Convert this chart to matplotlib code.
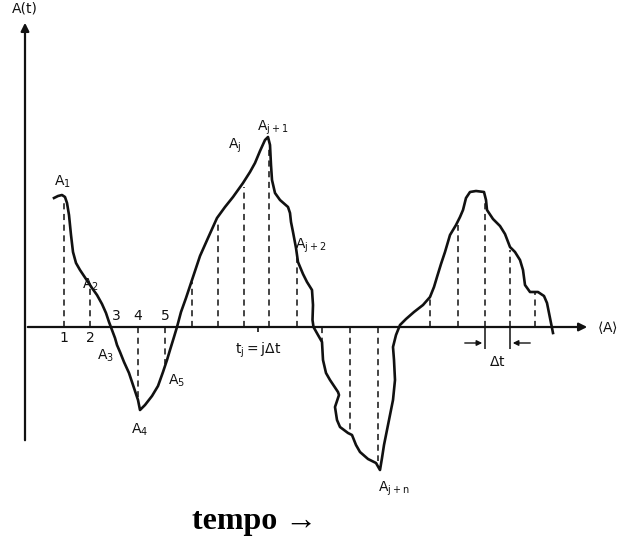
import numpy as np
import matplotlib
matplotlib.use('Agg')
import matplotlib.pyplot as plt

# signal trace: time (from vertical axis) and amplitude (above horizontal axis)
curve_t = [29, 33, 37, 40, 42, 44, 46, 48, 51, 55, 61, 67, 72, 77, 81, 84, 87, 90, 92, 95,
           99, 104, 109, 113, 115, 120, 127, 133, 138, 142, 145, 149, 152, 156, 161, 167, 175,
           183, 192, 200, 208, 218, 225, 230, 235, 240, 243, 245, 246, 247, 250, 255, 263, 265,
           266, 268, 271, 273, 278, 282, 287, 288, 287.5, 288.5, 293, 297, 298, 301, 305, 313,
           314, 310, 312, 315, 323, 327, 331, 335, 343, 351, 355, 357, 359, 362, 365, 368, 370,
           369, 368, 371, 375, 381, 389, 398, 405, 409, 412, 416, 420, 425, 431, 435, 438, 441,
           445, 451, 459, 461, 462, 468, 475, 480, 485, 490, 495, 498, 500, 505, 513, 519, 522,
           525, 528]
curve_a = [129, 131, 132, 130, 124, 112, 92, 75, 64, 57, 48, 39, 32, 23, 14, 5, -3, -11, -18, -25,
           -35, -46, -61, -73, -83, -78, -69, -59, -45, -33, -23, -10, 0, 15, 29, 47, 71,
           89, 109, 120, 130, 144, 155, 164, 176, 187, 190, 182, 162, 147, 134, 127, 120, 114,
           105, 95, 79, 65, 53, 45, 37, 22, 7, 0, -8, -15, -33, -46, -53, -65,
           -68, -80, -93, -100, -106, -108, -118, -125, -132, -136, -143, -131, -118, -103, -88, -73, -53,
           -33, -20, -8, 2, 8, 15, 22, 30, 40, 50, 63, 75, 92, 102, 110, 117, 129,
           135, 136, 135, 127, 117, 108, 101, 93, 80, 75, 67, 57, 42, 35, 35, 31, 24,
           9, -6]

# sampling instants (dashed ordinates)
sample_t = [39, 65, 113, 140, 167, 193, 219, 244, 272, 297, 325, 353, 405, 433, 460, 485, 510]

# numbered samples: label, time, above axis?
num_labels = ['1', '2', '3', '4', '5']
num_t = [39, 65, 91, 113, 140]
num_above = [False, False, True, True, True]

# named samples: label, time, amplitude of label anchor
name_labels = ['$A_1$', '$A_2$', '$A_3$', '$A_4$', '$A_5$',
               '$A_j$', '$A_{j+1}$', '$A_{j+2}$', '$A_{j+n}$']
name_t = [29, 57, 72, 106, 143, 203, 232, 270, 353]
name_a = [141, 38, -33, -107, -58, 178, 196, 78, -165]

fig = plt.figure(figsize=(6.34, 5.44), dpi=100)
ax = fig.add_axes([0, 0, 1, 1])
ax.set_xlim(-25, 609)
ax.set_ylim(-217, 327)
ax.axis('off')
plt.rcParams['mathtext.default'] = 'regular'

ink = '#111111'
lab = dict(fontsize=10, color=ink, family='DejaVu Sans')

# axes with arrows
ax.annotate('', xy=(0, 307), xytext=(0, -116),
            arrowprops=dict(arrowstyle='-|>', color=ink, lw=1.6, mutation_scale=12))
ax.annotate('', xy=(565, 0), xytext=(0, 0),
            arrowprops=dict(arrowstyle='-|>', color=ink, lw=1.6, mutation_scale=12))

# dashed ordinates from the axis to the curve
tops = np.interp(sample_t, curve_t, curve_a)
ax.vlines(sample_t, 0, tops * 0.96, colors=ink, linestyles=(0, (4, 3)), lw=1.1)

# the signal
ax.plot(curve_t, curve_a, color=ink, lw=1.9, solid_joinstyle='round')

for s, t, up in zip(num_labels, num_t, num_above):
    if up:
        ax.text(t, 4, s, ha='center', va='bottom', **lab)
    else:
        ax.text(t, -4, s, ha='center', va='top', **lab)

for s, t, a in zip(name_labels, name_t, name_a):
    ax.text(t, a, s, **lab)

ax.text(0, 312, 'A(t)', ha='center', va='bottom', **lab)
ax.text(572, 0, r'$\langle$A$\rangle$', ha='left', va='center', **lab)

# t_j tick and label
ax.vlines(233, -5, 0, colors=ink, lw=1.2)
ax.text(233, -14, r'$t_j = j\Delta t$', ha='center', va='top', **lab)

# delta t dimension
ax.vlines([460, 485], -22, 0, colors=ink, lw=1.1)
ax.annotate('', xy=(460, -16), xytext=(437, -16),
            arrowprops=dict(arrowstyle='-|>', color=ink, lw=1.0, mutation_scale=8))
ax.annotate('', xy=(485, -16), xytext=(508, -16),
            arrowprops=dict(arrowstyle='-|>', color=ink, lw=1.0, mutation_scale=8))
ax.text(472, -28, r'$\Delta t$', ha='center', va='top', **lab)

ax.text(230, -195, 'tempo →', ha='center', va='center', fontsize=23,
        fontweight='bold', family=['Liberation Serif', 'DejaVu Serif'], color='black')

fig.savefig('out.png', dpi=100)
